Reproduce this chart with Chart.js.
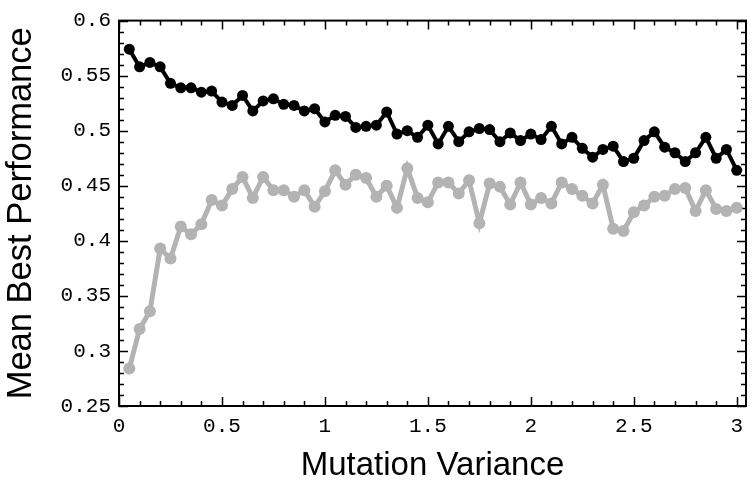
<!DOCTYPE html>
<html lang="en">
<head>
    <meta charset="UTF-8">
    <title>Mean Best Performance vs Mutation Variance</title>
    <script src="https://cdn.jsdelivr.net/npm/chart.js@4.4.1/dist/chart.umd.min.js"></script>
    <style>
        html, body {
            margin: 0;
            padding: 0;
            background: #ffffff;
        }
        .chart-box {
            position: relative;
            width: 752px;
            height: 482px;
        }
    </style>
</head>
<body>
    <div class="chart-box">
        <canvas id="perfChart"></canvas>
    </div>

    <script>
        // mutation variance (x)
        const variance = [
            0.05, 0.10, 0.15, 0.20, 0.25, 0.30, 0.35, 0.40, 0.45, 0.50,
            0.55, 0.60, 0.65, 0.70, 0.75, 0.80, 0.85, 0.90, 0.95, 1.00,
            1.05, 1.10, 1.15, 1.20, 1.25, 1.30, 1.35, 1.40, 1.45, 1.50,
            1.55, 1.60, 1.65, 1.70, 1.75, 1.80, 1.85, 1.90, 1.95, 2.00,
            2.05, 2.10, 2.15, 2.20, 2.25, 2.30, 2.35, 2.40, 2.45, 2.50,
            2.55, 2.60, 2.65, 2.70, 2.75, 2.80, 2.85, 2.90, 2.95, 3.00
        ];

        // upper (black) series
        const blackSeries = [
            0.574, 0.558, 0.562, 0.558, 0.543, 0.539, 0.539, 0.535, 0.536, 0.526,
            0.523, 0.532, 0.518, 0.527, 0.529, 0.524, 0.523, 0.518, 0.520, 0.508,
            0.514, 0.513, 0.503, 0.504, 0.505, 0.517, 0.497, 0.500, 0.494, 0.505,
            0.488, 0.504, 0.490, 0.499, 0.502, 0.501, 0.490, 0.498, 0.491, 0.497,
            0.492, 0.504, 0.488, 0.494, 0.484, 0.476, 0.483, 0.486, 0.472, 0.475,
            0.491, 0.499, 0.485, 0.480, 0.472, 0.480, 0.494, 0.475, 0.483, 0.464
        ];

        // lower (gray) series
        const graySeries = [
            0.284, 0.320, 0.336, 0.393, 0.384, 0.413, 0.406, 0.415, 0.437, 0.432,
            0.447, 0.458, 0.439, 0.458, 0.446, 0.446, 0.440, 0.446, 0.431, 0.445,
            0.464, 0.451, 0.460, 0.457, 0.440, 0.450, 0.430, 0.466, 0.439, 0.435,
            0.453, 0.453, 0.443, 0.455, 0.416, 0.452, 0.449, 0.433, 0.453, 0.433,
            0.439, 0.434, 0.453, 0.447, 0.441, 0.434, 0.451, 0.411, 0.409, 0.426,
            0.432, 0.440, 0.441, 0.447, 0.448, 0.427, 0.446, 0.429, 0.427, 0.430
        ];

        const xTicks = [0, 0.5, 1, 1.5, 2, 2.5, 3];
        const yTicks = [0.25, 0.3, 0.35, 0.4, 0.45, 0.5, 0.55, 0.6];

        const tickFont = { family: "'Liberation Mono', 'DejaVu Sans Mono', monospace", size: 21 };
        const xTitleFont = { family: "'Liberation Sans', Arial, sans-serif", size: 33, lineHeight: 1 };
        const yTitleFont = { family: "'Liberation Sans', Arial, sans-serif", size: 34.5, lineHeight: 1 };

        const fmt = v => String(parseFloat(Number(v).toFixed(2)));

        // frame with inward ticks on all four sides (Mathematica style)
        const framePlugin = {
            id: 'frame',
            beforeDatasetsDraw(chart) {
                const { ctx, chartArea: a, scales: { x, y } } = chart;
                ctx.save();
                ctx.strokeStyle = '#000';
                ctx.lineWidth = 2;
                ctx.strokeRect(a.left, a.top, a.right - a.left, a.bottom - a.top);

                ctx.lineWidth = 1.5;
                ctx.beginPath();
                for (let i = 0; i <= 30; i++) {
                    const px = Math.round(x.getPixelForValue(i / 10)) + 0.5;
                    const len = i % 5 === 0 ? 9 : 5;
                    ctx.moveTo(px, a.bottom); ctx.lineTo(px, a.bottom - len);
                    ctx.moveTo(px, a.top); ctx.lineTo(px, a.top + len);
                }
                for (let i = 25; i <= 60; i++) {
                    const py = Math.round(y.getPixelForValue(i / 100)) + 0.5;
                    const len = i % 5 === 0 ? 9 : 5;
                    ctx.moveTo(a.left, py); ctx.lineTo(a.left + len, py);
                    ctx.moveTo(a.right, py); ctx.lineTo(a.right - len, py);
                }
                ctx.stroke();
                ctx.restore();
            }
        };

        new Chart(document.getElementById('perfChart'), {
            type: 'line',
            data: {
                datasets: [{
                    label: 'black',
                    data: variance.map((v, i) => ({ x: v, y: blackSeries[i] })),
                    borderColor: '#000000',
                    backgroundColor: '#000000',
                    borderWidth: 4,
                    pointRadius: 5.5,
                    pointBorderWidth: 0,
                    tension: 0
                }, {
                    label: 'gray',
                    data: variance.map((v, i) => ({ x: v, y: graySeries[i] })),
                    borderColor: '#b3b3b3',
                    backgroundColor: '#b3b3b3',
                    borderWidth: 5,
                    pointRadius: 6,
                    pointBorderWidth: 0,
                    tension: 0
                }]
            },
            options: {
                responsive: true,
                maintainAspectRatio: false,
                animation: false,
                events: [],
                layout: { padding: { top: 14, right: 2, left: 0, bottom: 0 } },
                plugins: {
                    legend: { display: false },
                    tooltip: { enabled: false }
                },
                scales: {
                    x: {
                        type: 'linear',
                        min: 0,
                        max: 3.045,
                        afterBuildTicks: s => { s.ticks = xTicks.map(v => ({ value: v })); },
                        afterFit: s => { s.height = 76; },
                        grid: { display: false, drawTicks: false },
                        border: { display: false },
                        ticks: {
                            color: '#000',
                            font: tickFont,
                            padding: 8,
                            maxRotation: 0,
                            autoSkip: false,
                            callback: v => fmt(v)
                        },
                        title: {
                            display: true,
                            text: 'Mutation Variance',
                            color: '#000',
                            font: xTitleFont,
                            padding: { top: 0, bottom: 0 }
                        }
                    },
                    y: {
                        min: 0.25,
                        max: 0.6,
                        afterBuildTicks: s => { s.ticks = yTicks.map(v => ({ value: v })); },
                        afterFit: s => { s.width = 119; },
                        grid: { display: false, drawTicks: false },
                        border: { display: false },
                        ticks: {
                            color: '#000',
                            font: tickFont,
                            padding: 8,
                            autoSkip: false,
                            callback: v => fmt(v)
                        },
                        title: {
                            display: true,
                            text: 'Mean Best Performance',
                            color: '#000',
                            font: yTitleFont,
                            padding: { top: 4, bottom: 0 }
                        }
                    }
                }
            },
            plugins: [framePlugin]
        });
    </script>
</body>
</html>
